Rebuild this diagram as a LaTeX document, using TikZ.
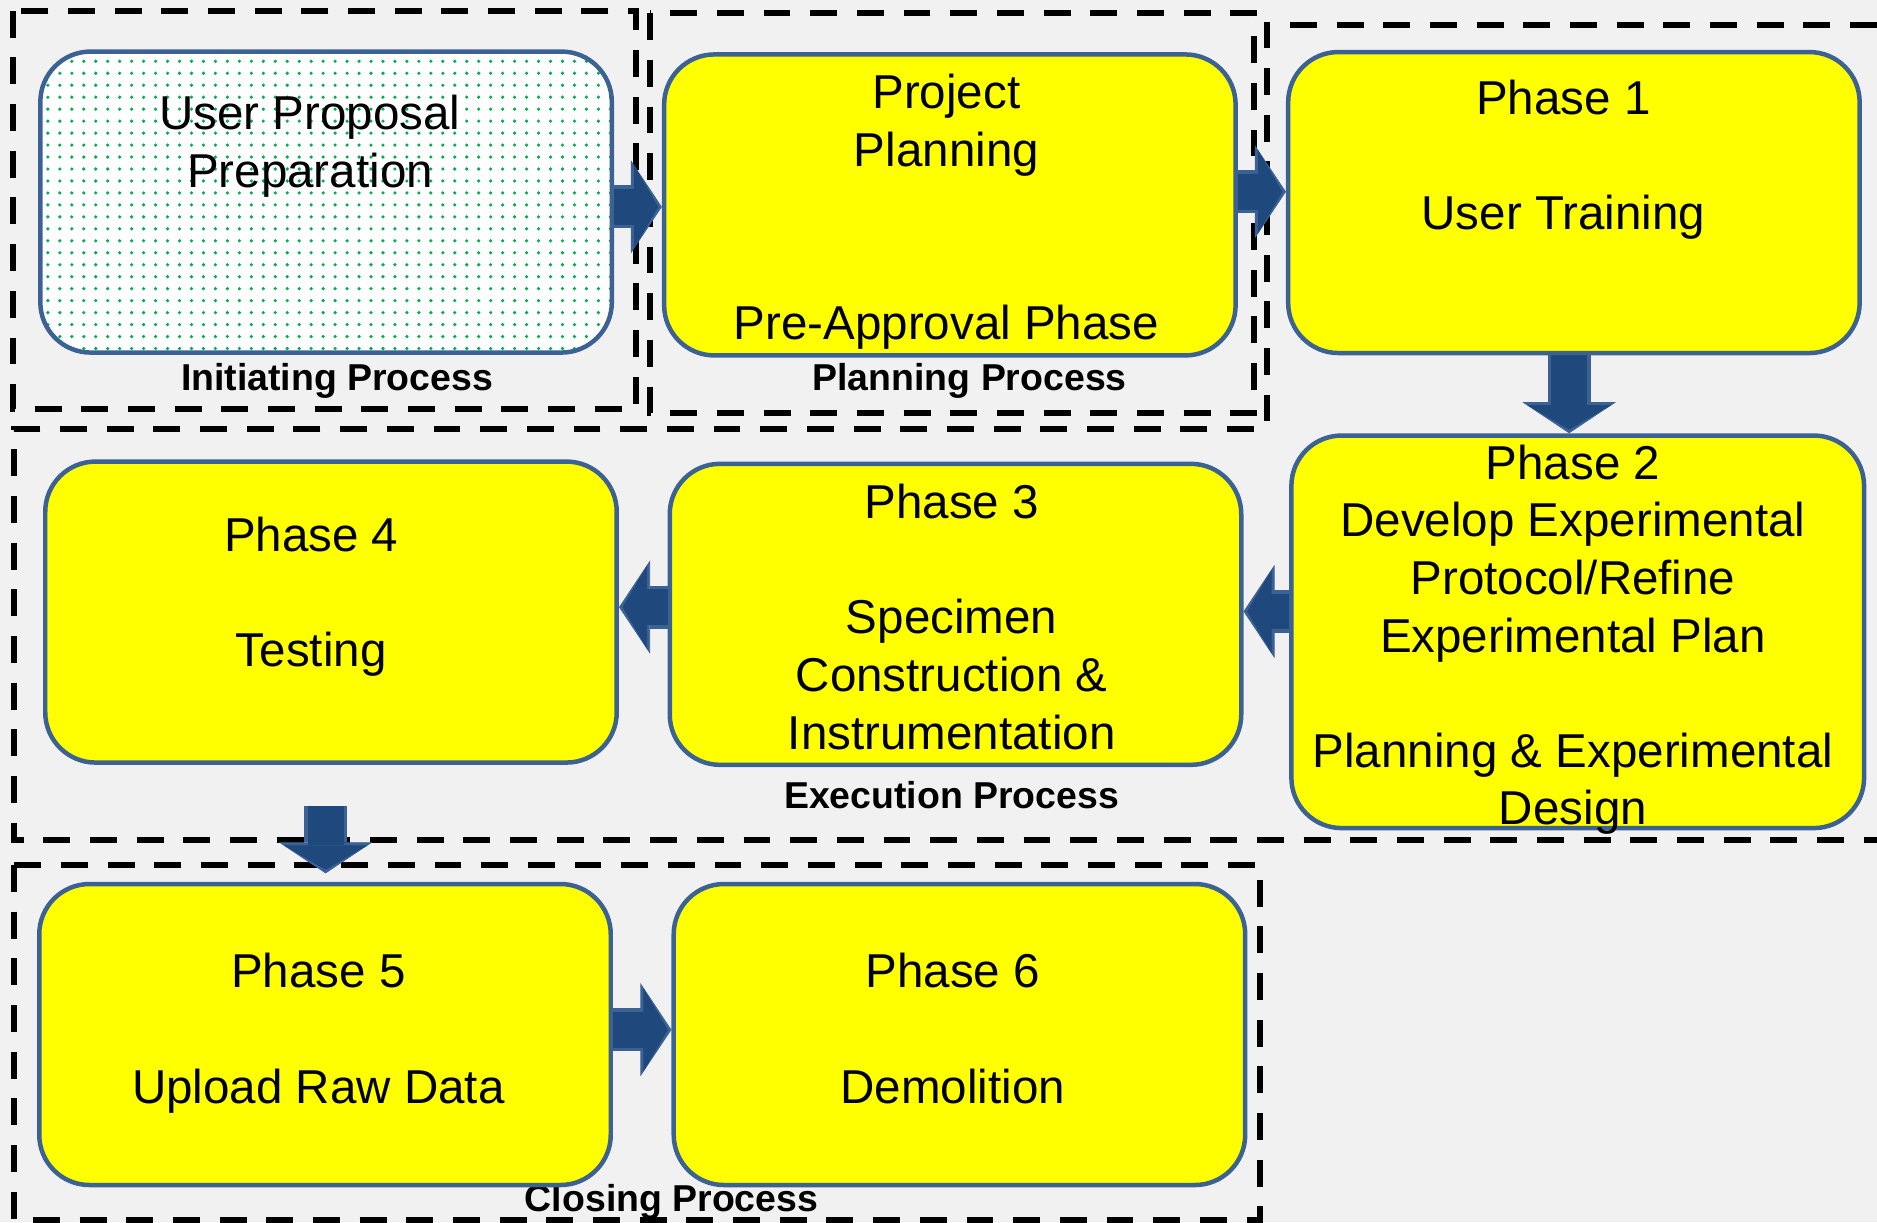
\documentclass[tikz,border=0pt]{standalone}
\usepackage{fontspec}
\setmainfont{Liberation Sans}
\usetikzlibrary{arrows.meta,patterns.meta}

\definecolor{bgGray}{HTML}{F1F1F1}
\definecolor{boxLine}{HTML}{3C6294}
\definecolor{boxYellow}{RGB}{255,255,0}
\definecolor{arrowBlue}{HTML}{1F497D}
\definecolor{dotGreen}{HTML}{00B050}

\begin{document}
\begin{tikzpicture}[x=0.02cm,y=-0.02cm,
    box/.style={draw=boxLine,line width=0.075cm,fill=boxYellow,rounded corners=0.84cm,
      minimum width=9.55cm,minimum height=5.03cm,inner sep=0pt},
    dotbox/.style={box,fill=none,preaction={fill=white},
      pattern={Dots[distance=0.2cm,radius=0.03cm]},pattern color=dotGreen},
    boxtext/.style={anchor=north,align=center,inner sep=0pt,
      font=\fontsize{22.6}{27.4}\selectfont},
    proclabel/.style={anchor=base,inner sep=0pt,font=\fontsize{17.8}{20}\selectfont\bfseries},
    procbox/.style={line width=0.1cm,dash pattern=on 0.45cm off 0.33cm},
    flow/.style={draw=arrowBlue,line width=0.6cm,shorten >=0.06cm,
      -{Triangle[length=0.41cm 0 0,width=1.40cm 0 0,line width=0.4pt 0 0]},
      preaction={draw=boxLine,line width=0.72cm,shorten >=0cm,
        -{Triangle[length=0.52cm 0 0,width=1.56cm 0 0,line width=0.4pt 0 0]}}}]

        \useasboundingbox (0,0) rectangle (1568,1021);
        \fill[bgGray] (0,0) rectangle (1568,1021);

        % process frames
        \draw[procbox] (11,9) rectangle (531,342);
        \draw[procbox] (543,11) rectangle (1047.5,345);
        \draw[procbox] (1568,21) -- (1058,21) -- (1058,352);
        \draw[procbox] (1047.5,358) -- (12,358) -- (12,702) -- (1568,702);
        \draw[procbox] (12,722.6) rectangle (1052.6,1019);

        \node[proclabel] (init) at (281.6,325.8) {Initiating Process};
        \node[proclabel] (plan) at (810,325.8) {Planning Process};
        \node[proclabel] (exec) at (795,675) {Execution Process};
        \node[proclabel] (clos) at (561,1012) {Closing Process};

        % phase boxes
        \node[dotbox] (up) at (272.4,168.8) {};
        \node[box] (pp) at (793.5,171.2) {};
        \node[box] (p1) at (1314.8,169.2) {};
        \node[box,minimum width=9.57cm,minimum height=6.56cm] (p2) at (1318,527.8) {};
        \node[box] (p3) at (798.2,513.2) {};
        \node[box] (p4) at (276.5,511.3) {};
        \node[box] (p5) at (271.5,864.2) {};
        \node[box] (p6) at (801.5,864.2) {};

        \node[boxtext] (upt) at (259,79.2) {User Proposal\\Preparation};
        \node[boxtext] (ppt) at (790.6,61.8) {Project\\Planning\\~\\~\\Pre-Approval Phase};
        \node[boxtext] (p1t) at (1306,66.2) {Phase 1\\~\\User Training};
        \node[boxtext] (p2t) at (1314,371.2) {Phase 2\\Develop Experimental\\Protocol/Refine\\Experimental Plan\\~\\Planning \& Experimental\\Design};
        \node[boxtext] (p3t) at (795,404.2) {Phase 3\\~\\Specimen\\Construction \&\\Instrumentation};
        \node[boxtext] (p4t) at (260,431.7) {Phase 4\\~\\Testing};
        \node[boxtext] (p5t) at (266,796.2) {Phase 5\\~\\Upload Raw Data};
        \node[boxtext] (p6t) at (796,796.2) {Phase 6\\~\\Demolition};

        % block arrows
        \coordinate (a1) at ([yshift=-0.08cm]up.east);
        \coordinate (a2) at ([yshift=0.22cm]pp.east);
        \coordinate (a3) at ([xshift=-0.08cm]p1.south);
        \coordinate (a4) at ([yshift=0.34cm]p2.west);
        \coordinate (a5) at ([yshift=0.12cm]p3.west);
        \coordinate (a6) at ([xshift=-0.09cm,yshift=-0.68cm]p4.south);
        \coordinate (a6e) at ([yshift=0.14cm]p5.north);
        \coordinate (a7) at ([yshift=0.08cm]p5.east);

        \draw[flow] (a1) -- (a1 -| pp.west);
        \draw[flow] (a2) -- (a2 -| p1.west);
        \draw[flow] (a3) -- (a3 |- p2.north);
        \draw[flow] (a4) -- (a4 -| p3.east);
        \draw[flow] (a5) -- (a5 -| p4.east);
        \draw[flow] (a6) -- (a6 |- a6e);
        \draw[flow] (a7) -- (a7 -| p6.west);
      \end{tikzpicture}
\end{document}
